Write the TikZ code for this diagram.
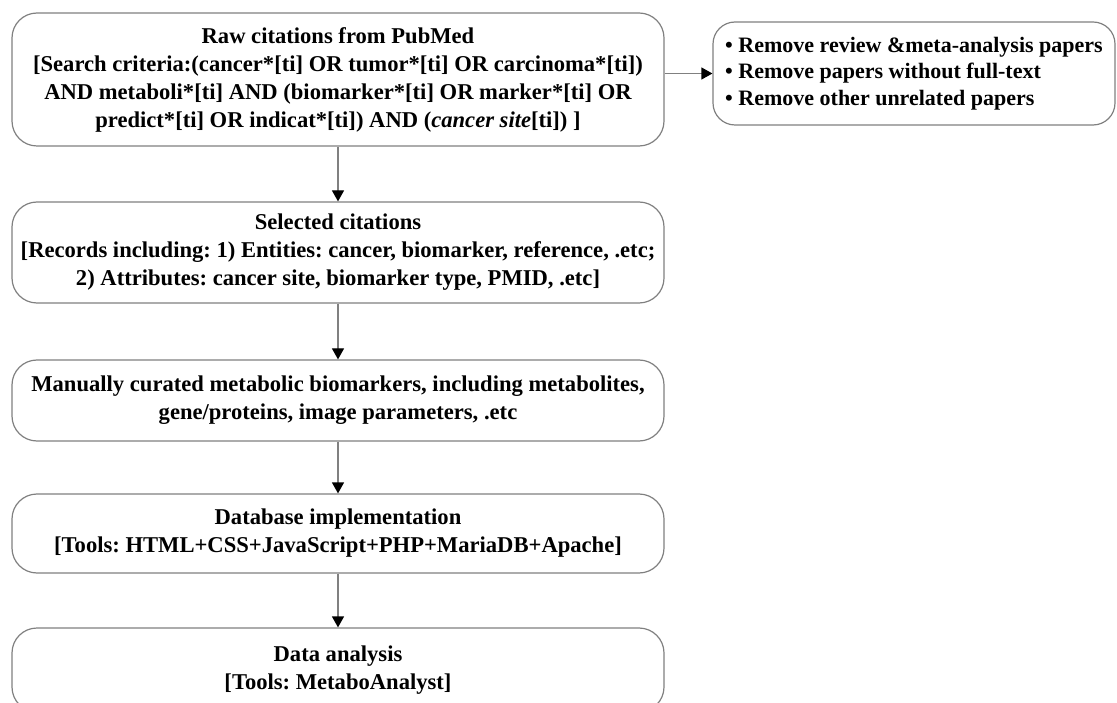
\documentclass[tikz,border=0pt]{standalone}
\usepackage{fontspec}
\setmainfont{Liberation Serif}
\frenchspacing
\usetikzlibrary{arrows.meta,positioning}

\begin{document}
\begin{tikzpicture}[
    x=1pt, y=-1pt,
    box/.style={draw=black!50, line width=1.2pt, rounded corners=25pt, minimum width=652pt, align=center, font=\fontsize{22.6}{28}\selectfont\bfseries, inner sep=0pt},
    sidebox/.style={draw=black!50, line width=1.2pt, rounded corners=22pt, minimum width=402pt, minimum height=103pt, align=left, font=\fontsize{22}{26.5}\selectfont\bfseries, inner sep=0pt},
    arr/.style={draw=black!50, line width=1.2pt, -{Triangle[length=11pt,width=12pt,color=black]}}
]
\useasboundingbox (0,0) rectangle (1117,703);
\node[box, minimum height=133pt] (raw) at (338,79.5) {Raw citations from PubMed\\{}[Search criteria:(cancer*[ti] OR tumor*[ti] OR carcinoma*[ti])\\AND metaboli*[ti] AND (biomarker*[ti] OR marker*[ti] OR\\predict*[ti] OR indicat*[ti]) AND (\textit{cancer site}[ti]) ]};
\node[sidebox] (remove) at (914,73.5) {\textbullet\ Remove review \&meta-analysis papers\\\textbullet\ Remove papers without full-text\\\textbullet\ Remove other unrelated papers};
\node[box, minimum height=101pt] (selected) at (338,252.5) {Selected citations\\{}[Records including: 1) Entities: cancer, biomarker, reference, .etc;\\2) Attributes: cancer site, biomarker type, PMID, .etc]};
\node[box, minimum height=81pt] (curated) at (338,400.5) {Manually curated metabolic biomarkers, including metabolites,\\gene/proteins, image parameters, .etc};
\node[box, minimum height=79pt] (database) at (338,533.5) {Database implementation\\{}[Tools: HTML+CSS+JavaScript+PHP+MariaDB+Apache]};
\node[box, minimum height=84pt] (analysis) at (338,670) {Data analysis\\{}[Tools: MetaboAnalyst]};

\draw[arr] (raw) -- (selected);
\draw[arr] (selected) -- (curated);
\draw[arr] (curated) -- (database);
\draw[arr] (database) -- (analysis);
\draw[arr] (remove.west -| raw.east) -- (remove.west);
\end{tikzpicture}
\end{document}
